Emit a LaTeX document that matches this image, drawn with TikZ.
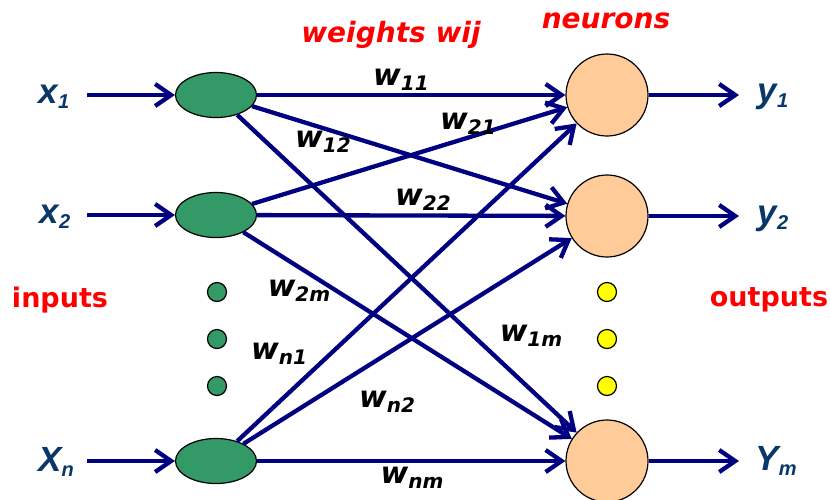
\documentclass[tikz,border=0pt]{standalone}
\usepackage{fontspec}
\usetikzlibrary{arrows.meta,shapes.geometric}
\newfontfamily\dvs{DejaVu Sans}
\newfontfamily\lib{Liberation Sans}
\definecolor{navyc}{RGB}{0,0,128}
\definecolor{xlabc}{RGB}{10,55,105}
\definecolor{greenc}{RGB}{51,153,102}
\definecolor{peachc}{RGB}{255,204,153}
\definecolor{yellowc}{RGB}{255,255,0}
\newcommand\wlab[2]{{\fontsize{30}{30}\selectfont\dvs\bfseries\itshape #1\raisebox{-4.5pt}{\fontsize{20}{20}\selectfont #2}}}
\newcommand\xlab[2]{{\fontsize{35}{35}\selectfont\lib\bfseries\itshape #1\raisebox{-5pt}{\fontsize{20}{20}\selectfont #2}}}
\tikzset{
  inode/.style={ellipse,draw=black,line width=1.2pt,fill=greenc,minimum width=81pt,minimum height=45pt,inner sep=0pt},
  onode/.style={circle,draw=black,line width=1.2pt,fill=peachc,minimum size=82pt,inner sep=0pt},
  gdot/.style={circle,draw=black,line width=1.2pt,fill=greenc,minimum size=19pt,inner sep=0pt},
  ydot/.style={circle,draw=black,line width=1.2pt,fill=yellowc,minimum size=19pt,inner sep=0pt},
  conn/.style={draw=navyc,line width=4.3pt,-{Straight Barb[length=16pt,width=22pt]}},
  redlab/.style={text=red,font=\fontsize{27}{27}\selectfont\dvs\bfseries,inner sep=0pt},
  wl/.style={text=black,inner sep=0pt},
  xl/.style={text=xlabc,inner sep=0pt}
}
\begin{document}
\begin{tikzpicture}[x=1pt,y=-1pt]
\useasboundingbox (0,0) rectangle (830,499);
% input nodes
\node[inode] (i1) at (216,95) {};
\node[inode] (i2) at (216,215) {};
\node[inode] (in) at (216,461) {};
\node[gdot] (g1) at (217,292) {};
\node[gdot] (g2) at (217,339) {};
\node[gdot] (g3) at (217,386) {};
% output neurons
\node[onode] (o1) at (607,95) {};
\node[onode] (o2) at (607,216) {};
\node[onode] (om) at (607,461) {};
\node[ydot] (y1d) at (607,292) {};
\node[ydot] (y2d) at (607,339) {};
\node[ydot] (y3d) at (607,386) {};
% free ends
\coordinate (a1) at (87,95);
\coordinate (a2) at (87,215);
\coordinate (an) at (87,461);
\coordinate (b1) at (739,95);
\coordinate (b2) at (739,216);
\coordinate (bm) at (739,461);
% input and output arrows
\draw[conn] (a1) -- (i1);
\draw[conn] (a2) -- (i2);
\draw[conn] (an) -- (in);
\draw[conn] (o1) -- (b1);
\draw[conn] (o2) -- (b2);
\draw[conn] (om) -- (bm);
% weights
\draw[conn] (i1) -- (o1);
\draw[conn] (i1) -- (o2);
\draw[conn] (i1) -- (om);
\draw[conn] (i2) -- (o1);
\draw[conn] (i2) -- (o2);
\draw[conn] (i2) -- (om);
\draw[conn] (in) -- (o1);
\draw[conn] (in) -- (o2);
\draw[conn] (in) -- (om);
% weight labels
\node[wl] (l11) at (401,80) {\wlab{w}{11}};
\node[wl] (l21) at (468,124) {\wlab{w}{21}};
\node[wl] (l12) at (323,142) {\wlab{w}{12}};
\node[wl] (l22) at (423,200) {\wlab{w}{22}};
\node[wl] (l2m) at (299,291) {\wlab{w}{2m}};
\node[wl] (l1m) at (531,336) {\wlab{w}{1m}};
\node[wl] (ln1) at (279,354) {\wlab{w}{n1}};
\node[wl] (ln2) at (387,402) {\wlab{w}{n2}};
\node[wl] (lnm) at (412,478) {\wlab{w}{nm}};
% input/output labels
\node[xl] (x1) at (54,97) {\xlab{x}{1}};
\node[xl] (x2) at (55,217) {\xlab{x}{2}};
\node[xl] (xn) at (56,462) {\xlab{X}{n}};
\node[xl] (y1) at (773,97) {\xlab{y}{1}};
\node[xl] (y2) at (773,219) {\xlab{y}{2}};
\node[xl] (ym) at (776,461) {\xlab{Y}{m}};
% red titles
\node[redlab,font=\fontsize{28}{28}\selectfont\dvs\bfseries\itshape] (tw) at (391,35) {weights wij};
\node[redlab,font=\fontsize{28}{28}\selectfont\dvs\bfseries\itshape] (tn) at (606,21) {neurons};
\node[redlab] (tin) at (60,300) {inputs};
\node[redlab] (tout) at (769,300) {outputs};
\end{tikzpicture}
\end{document}
